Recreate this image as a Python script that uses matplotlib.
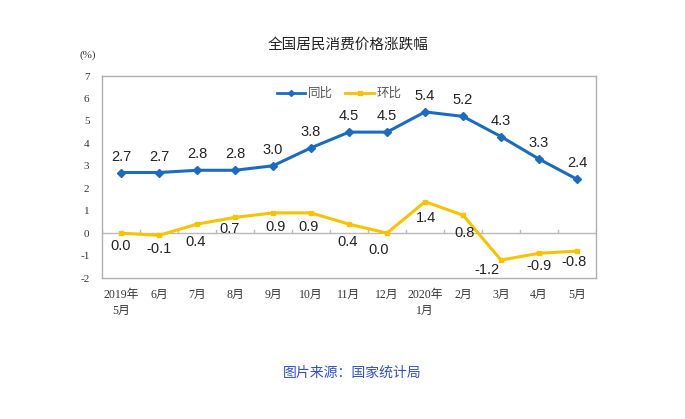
import matplotlib
matplotlib.use("Agg")
import matplotlib.pyplot as plt
from matplotlib.lines import Line2D

plt.rcParams['font.family'] = ['Noto Sans CJK SC', 'DejaVu Sans']

months = ['2019年\n5月', '6月', '7月', '8月', '9月', '10月', '11月', '12月',
          '2020年\n1月', '2月', '3月', '4月', '5月']
yoy = [2.7, 2.7, 2.8, 2.8, 3.0, 3.8, 4.5, 4.5, 5.4, 5.2, 4.3, 3.3, 2.4]
mom = [0.0, -0.1, 0.4, 0.7, 0.9, 0.9, 0.4, 0.0, 1.4, 0.8, -1.2, -0.9, -0.8]

blue = '#1B6CC0'
yellow = '#F7C300'
serif = ['Liberation Serif', 'Noto Sans CJK SC']

# label nudges for the 环比 series (points), as placed in the original
mom_dx = [0, 0, -1, -4, 2, -2, -1, -6, 1, 1, -10, 0, -2]
mom_dy = [-9, -10, -13, -8, -10, -10, -13, -12, -12, -13, -7, -9, -8]

fig = plt.figure(figsize=(6.85, 4.19), dpi=100)
ax = fig.add_axes([102 / 685, 1 - 278 / 419, 494 / 685, 202 / 419])

x = list(range(len(months)))
ax.plot(x, yoy, color=blue, lw=2.2, marker='D', ms=4, zorder=3)
ax.plot(x, mom, color=yellow, lw=2.2, marker='s', ms=3.5, zorder=3)

for i, v in enumerate(yoy):
    ax.annotate(f'{v:.1f}', (i, v), xytext=(0, 11.5), textcoords='offset points',
                ha='center', va='center', fontsize=10.5, family='Liberation Sans',
                color='#222222')
for i, v in enumerate(mom):
    ax.annotate(f'{v:.1f}', (i, v), xytext=(mom_dx[i], mom_dy[i]),
                textcoords='offset points', ha='center', va='center',
                fontsize=10.5, family='Liberation Sans', color='#222222')

ax.axhline(0, color='#BBBBBB', lw=1, zorder=1)
for b in range(len(months) + 1):
    ax.plot([b - 0.5, b - 0.5], [0, 0.12], color='#BBBBBB', lw=1, zorder=1)

ax.set_xlim(-0.5, len(months) - 0.5)
ax.set_ylim(-2, 7)
ax.set_yticks(range(-2, 8))
ax.set_yticklabels([str(t) for t in range(-2, 8)], family='Liberation Serif',
                   fontsize=8, color='#333333')
ax.set_xticks(x)
ax.set_xticklabels(months, family=serif, fontsize=8.5, color='#333333',
                   linespacing=1.4, va='top')
ax.tick_params(axis='both', length=0)
ax.tick_params(axis='y', pad=9)
ax.tick_params(axis='x', pad=8)
for s in ax.spines.values():
    s.set_color('#B0B0B0')
    s.set_linewidth(1)

handles = [Line2D([], [], color=blue, lw=2, marker='D', ms=3),
           Line2D([], [], color=yellow, lw=2, marker='s', ms=3)]
ax.legend(handles, ['同比', '环比'], loc='upper center', ncol=2, frameon=False,
          bbox_to_anchor=(0.48, 1.0), fontsize=9, handlelength=2.3,
          handletextpad=0.2, columnspacing=1.0, labelcolor='#555555')

fig.text(348 / 685, 1 - 45 / 419, '全国居民消费价格涨跌幅', ha='center',
         va='center', fontsize=10.5, color='#222222')
fig.text(88 / 685, 1 - 55 / 419, '(%)', ha='center', va='center',
         fontsize=8, family='Liberation Serif', color='#333333')
fig.text(352 / 685, 1 - 373 / 419, '图片来源：国家统计局', ha='center',
         va='center', fontsize=10, color='#2F50D0')

fig.savefig('out.png', dpi=100)
